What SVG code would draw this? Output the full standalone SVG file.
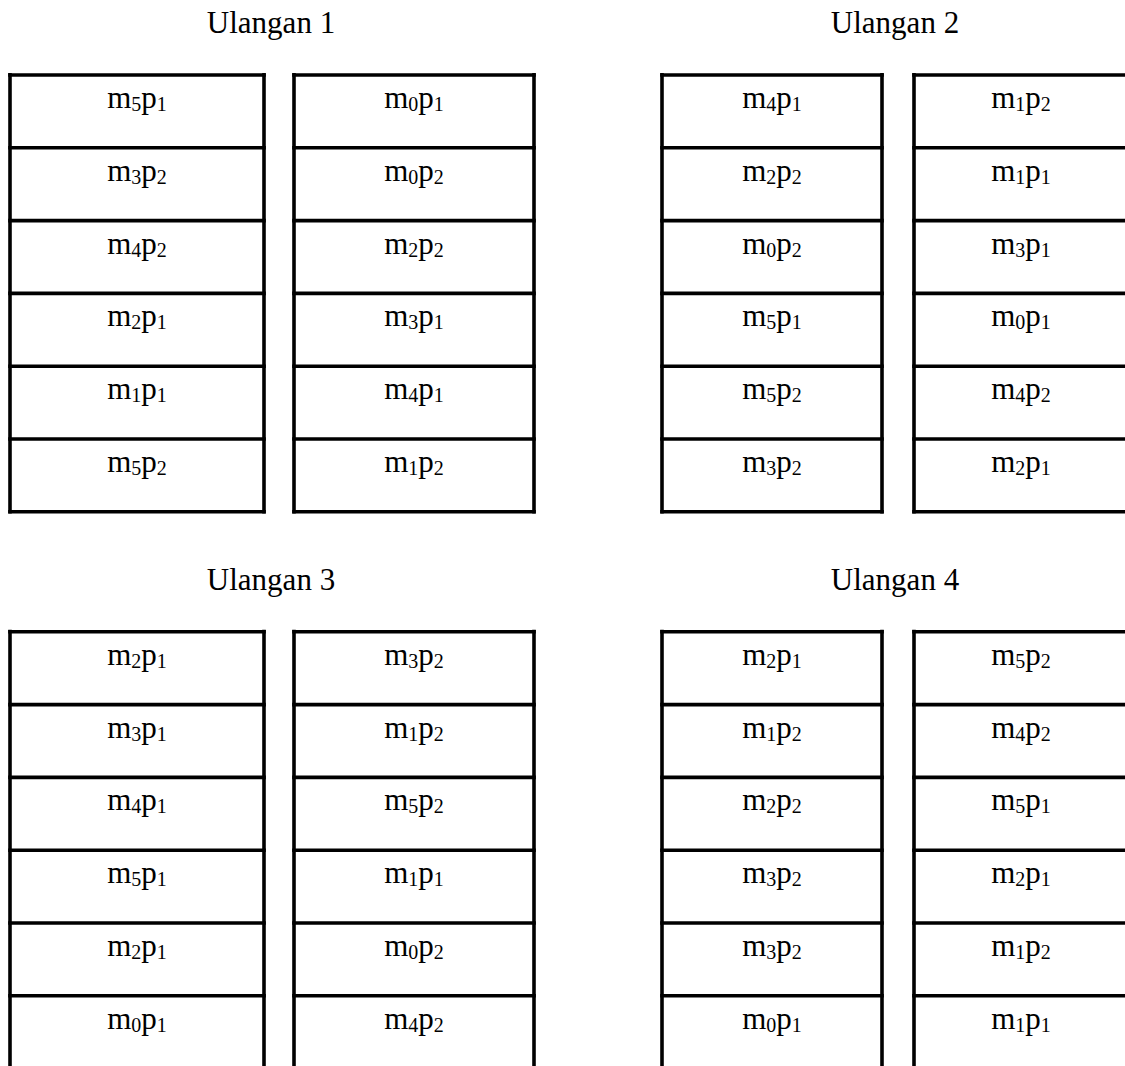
<svg xmlns="http://www.w3.org/2000/svg" width="1125" height="1066" viewBox="0 0 1125 1066">
<style>
.ln{stroke:#000;stroke-width:3.6;fill:none}
.t{font-family:"Liberation Serif","Times New Roman",serif;font-size:31px;fill:#000;text-anchor:middle}
.s{font-size:20px}
</style>
<rect width="1125" height="1066" fill="#fff"/>
<g id="titles">
<text class="t" x="271" y="33">Ulangan 1</text>
<text class="t" x="895" y="33">Ulangan 2</text>
<text class="t" x="271" y="590">Ulangan 3</text>
<text class="t" x="895" y="590">Ulangan 4</text>
</g>
<g id="connectors">
<!-- Ulangan 1 frames -->
<line class="ln" x1="10" y1="73" x2="10" y2="513.6"/>
<line class="ln" x1="264" y1="73" x2="264" y2="513.6"/>
<line class="ln" x1="294" y1="73" x2="294" y2="513.6"/>
<line class="ln" x1="534" y1="73" x2="534" y2="513.6"/>
<line class="ln" x1="8.2" y1="511.8" x2="265.8" y2="511.8"/>
<line class="ln" x1="292.2" y1="511.8" x2="535.8" y2="511.8"/>
<!-- Ulangan 2 frames -->
<line class="ln" x1="662" y1="73" x2="662" y2="513.6"/>
<line class="ln" x1="882" y1="73" x2="882" y2="513.6"/>
<line class="ln" x1="914" y1="73" x2="914" y2="513.6"/>
<line class="ln" x1="660.2" y1="511.8" x2="883.8" y2="511.8"/>
<line class="ln" x1="912.2" y1="511.8" x2="1125" y2="511.8"/>
<!-- Ulangan 3 frames -->
<line class="ln" x1="10" y1="629.8" x2="10" y2="1066"/>
<line class="ln" x1="264" y1="629.8" x2="264" y2="1066"/>
<line class="ln" x1="294" y1="629.8" x2="294" y2="1066"/>
<line class="ln" x1="534" y1="629.8" x2="534" y2="1066"/>
<!-- Ulangan 4 frames -->
<line class="ln" x1="662" y1="629.8" x2="662" y2="1066"/>
<line class="ln" x1="882" y1="629.8" x2="882" y2="1066"/>
<line class="ln" x1="914" y1="629.8" x2="914" y2="1066"/>
</g>
<!-- Ulangan 1, column 1 -->
<g id="u1a1"><line class="ln" x1="8.2" y1="75" x2="265.8" y2="75"/><text class="t" x="137" y="108">m<tspan class="s" dy="3">5</tspan><tspan dy="-3">p</tspan><tspan class="s" dy="3">1</tspan></text></g>
<g id="u1a2"><line class="ln" x1="8.2" y1="147.8" x2="265.8" y2="147.8"/><text class="t" x="137" y="180.8">m<tspan class="s" dy="3">3</tspan><tspan dy="-3">p</tspan><tspan class="s" dy="3">2</tspan></text></g>
<g id="u1a3"><line class="ln" x1="8.2" y1="220.6" x2="265.8" y2="220.6"/><text class="t" x="137" y="253.6">m<tspan class="s" dy="3">4</tspan><tspan dy="-3">p</tspan><tspan class="s" dy="3">2</tspan></text></g>
<g id="u1a4"><line class="ln" x1="8.2" y1="293.4" x2="265.8" y2="293.4"/><text class="t" x="137" y="326.4">m<tspan class="s" dy="3">2</tspan><tspan dy="-3">p</tspan><tspan class="s" dy="3">1</tspan></text></g>
<g id="u1a5"><line class="ln" x1="8.2" y1="366.2" x2="265.8" y2="366.2"/><text class="t" x="137" y="399.2">m<tspan class="s" dy="3">1</tspan><tspan dy="-3">p</tspan><tspan class="s" dy="3">1</tspan></text></g>
<g id="u1a6"><line class="ln" x1="8.2" y1="439" x2="265.8" y2="439"/><text class="t" x="137" y="472">m<tspan class="s" dy="3">5</tspan><tspan dy="-3">p</tspan><tspan class="s" dy="3">2</tspan></text></g>
<!-- Ulangan 1, column 2 -->
<g id="u1b1"><line class="ln" x1="292.2" y1="75" x2="535.8" y2="75"/><text class="t" x="414" y="108">m<tspan class="s" dy="3">0</tspan><tspan dy="-3">p</tspan><tspan class="s" dy="3">1</tspan></text></g>
<g id="u1b2"><line class="ln" x1="292.2" y1="147.8" x2="535.8" y2="147.8"/><text class="t" x="414" y="180.8">m<tspan class="s" dy="3">0</tspan><tspan dy="-3">p</tspan><tspan class="s" dy="3">2</tspan></text></g>
<g id="u1b3"><line class="ln" x1="292.2" y1="220.6" x2="535.8" y2="220.6"/><text class="t" x="414" y="253.6">m<tspan class="s" dy="3">2</tspan><tspan dy="-3">p</tspan><tspan class="s" dy="3">2</tspan></text></g>
<g id="u1b4"><line class="ln" x1="292.2" y1="293.4" x2="535.8" y2="293.4"/><text class="t" x="414" y="326.4">m<tspan class="s" dy="3">3</tspan><tspan dy="-3">p</tspan><tspan class="s" dy="3">1</tspan></text></g>
<g id="u1b5"><line class="ln" x1="292.2" y1="366.2" x2="535.8" y2="366.2"/><text class="t" x="414" y="399.2">m<tspan class="s" dy="3">4</tspan><tspan dy="-3">p</tspan><tspan class="s" dy="3">1</tspan></text></g>
<g id="u1b6"><line class="ln" x1="292.2" y1="439" x2="535.8" y2="439"/><text class="t" x="414" y="472">m<tspan class="s" dy="3">1</tspan><tspan dy="-3">p</tspan><tspan class="s" dy="3">2</tspan></text></g>
<!-- Ulangan 2, column 1 -->
<g id="u2a1"><line class="ln" x1="660.2" y1="75" x2="883.8" y2="75"/><text class="t" x="772" y="108">m<tspan class="s" dy="3">4</tspan><tspan dy="-3">p</tspan><tspan class="s" dy="3">1</tspan></text></g>
<g id="u2a2"><line class="ln" x1="660.2" y1="147.8" x2="883.8" y2="147.8"/><text class="t" x="772" y="180.8">m<tspan class="s" dy="3">2</tspan><tspan dy="-3">p</tspan><tspan class="s" dy="3">2</tspan></text></g>
<g id="u2a3"><line class="ln" x1="660.2" y1="220.6" x2="883.8" y2="220.6"/><text class="t" x="772" y="253.6">m<tspan class="s" dy="3">0</tspan><tspan dy="-3">p</tspan><tspan class="s" dy="3">2</tspan></text></g>
<g id="u2a4"><line class="ln" x1="660.2" y1="293.4" x2="883.8" y2="293.4"/><text class="t" x="772" y="326.4">m<tspan class="s" dy="3">5</tspan><tspan dy="-3">p</tspan><tspan class="s" dy="3">1</tspan></text></g>
<g id="u2a5"><line class="ln" x1="660.2" y1="366.2" x2="883.8" y2="366.2"/><text class="t" x="772" y="399.2">m<tspan class="s" dy="3">5</tspan><tspan dy="-3">p</tspan><tspan class="s" dy="3">2</tspan></text></g>
<g id="u2a6"><line class="ln" x1="660.2" y1="439" x2="883.8" y2="439"/><text class="t" x="772" y="472">m<tspan class="s" dy="3">3</tspan><tspan dy="-3">p</tspan><tspan class="s" dy="3">2</tspan></text></g>
<!-- Ulangan 2, column 2 -->
<g id="u2b1"><line class="ln" x1="912.2" y1="75" x2="1125" y2="75"/><text class="t" x="1021" y="108">m<tspan class="s" dy="3">1</tspan><tspan dy="-3">p</tspan><tspan class="s" dy="3">2</tspan></text></g>
<g id="u2b2"><line class="ln" x1="912.2" y1="147.8" x2="1125" y2="147.8"/><text class="t" x="1021" y="180.8">m<tspan class="s" dy="3">1</tspan><tspan dy="-3">p</tspan><tspan class="s" dy="3">1</tspan></text></g>
<g id="u2b3"><line class="ln" x1="912.2" y1="220.6" x2="1125" y2="220.6"/><text class="t" x="1021" y="253.6">m<tspan class="s" dy="3">3</tspan><tspan dy="-3">p</tspan><tspan class="s" dy="3">1</tspan></text></g>
<g id="u2b4"><line class="ln" x1="912.2" y1="293.4" x2="1125" y2="293.4"/><text class="t" x="1021" y="326.4">m<tspan class="s" dy="3">0</tspan><tspan dy="-3">p</tspan><tspan class="s" dy="3">1</tspan></text></g>
<g id="u2b5"><line class="ln" x1="912.2" y1="366.2" x2="1125" y2="366.2"/><text class="t" x="1021" y="399.2">m<tspan class="s" dy="3">4</tspan><tspan dy="-3">p</tspan><tspan class="s" dy="3">2</tspan></text></g>
<g id="u2b6"><line class="ln" x1="912.2" y1="439" x2="1125" y2="439"/><text class="t" x="1021" y="472">m<tspan class="s" dy="3">2</tspan><tspan dy="-3">p</tspan><tspan class="s" dy="3">1</tspan></text></g>
<!-- Ulangan 3, column 1 -->
<g id="u3a1"><line class="ln" x1="8.2" y1="631.8" x2="265.8" y2="631.8"/><text class="t" x="137" y="664.8">m<tspan class="s" dy="3">2</tspan><tspan dy="-3">p</tspan><tspan class="s" dy="3">1</tspan></text></g>
<g id="u3a2"><line class="ln" x1="8.2" y1="704.6" x2="265.8" y2="704.6"/><text class="t" x="137" y="737.6">m<tspan class="s" dy="3">3</tspan><tspan dy="-3">p</tspan><tspan class="s" dy="3">1</tspan></text></g>
<g id="u3a3"><line class="ln" x1="8.2" y1="777.4" x2="265.8" y2="777.4"/><text class="t" x="137" y="810.4">m<tspan class="s" dy="3">4</tspan><tspan dy="-3">p</tspan><tspan class="s" dy="3">1</tspan></text></g>
<g id="u3a4"><line class="ln" x1="8.2" y1="850.2" x2="265.8" y2="850.2"/><text class="t" x="137" y="883.2">m<tspan class="s" dy="3">5</tspan><tspan dy="-3">p</tspan><tspan class="s" dy="3">1</tspan></text></g>
<g id="u3a5"><line class="ln" x1="8.2" y1="923" x2="265.8" y2="923"/><text class="t" x="137" y="956">m<tspan class="s" dy="3">2</tspan><tspan dy="-3">p</tspan><tspan class="s" dy="3">1</tspan></text></g>
<g id="u3a6"><line class="ln" x1="8.2" y1="995.8" x2="265.8" y2="995.8"/><text class="t" x="137" y="1028.8">m<tspan class="s" dy="3">0</tspan><tspan dy="-3">p</tspan><tspan class="s" dy="3">1</tspan></text></g>
<!-- Ulangan 3, column 2 -->
<g id="u3b1"><line class="ln" x1="292.2" y1="631.8" x2="535.8" y2="631.8"/><text class="t" x="414" y="664.8">m<tspan class="s" dy="3">3</tspan><tspan dy="-3">p</tspan><tspan class="s" dy="3">2</tspan></text></g>
<g id="u3b2"><line class="ln" x1="292.2" y1="704.6" x2="535.8" y2="704.6"/><text class="t" x="414" y="737.6">m<tspan class="s" dy="3">1</tspan><tspan dy="-3">p</tspan><tspan class="s" dy="3">2</tspan></text></g>
<g id="u3b3"><line class="ln" x1="292.2" y1="777.4" x2="535.8" y2="777.4"/><text class="t" x="414" y="810.4">m<tspan class="s" dy="3">5</tspan><tspan dy="-3">p</tspan><tspan class="s" dy="3">2</tspan></text></g>
<g id="u3b4"><line class="ln" x1="292.2" y1="850.2" x2="535.8" y2="850.2"/><text class="t" x="414" y="883.2">m<tspan class="s" dy="3">1</tspan><tspan dy="-3">p</tspan><tspan class="s" dy="3">1</tspan></text></g>
<g id="u3b5"><line class="ln" x1="292.2" y1="923" x2="535.8" y2="923"/><text class="t" x="414" y="956">m<tspan class="s" dy="3">0</tspan><tspan dy="-3">p</tspan><tspan class="s" dy="3">2</tspan></text></g>
<g id="u3b6"><line class="ln" x1="292.2" y1="995.8" x2="535.8" y2="995.8"/><text class="t" x="414" y="1028.8">m<tspan class="s" dy="3">4</tspan><tspan dy="-3">p</tspan><tspan class="s" dy="3">2</tspan></text></g>
<!-- Ulangan 4, column 1 -->
<g id="u4a1"><line class="ln" x1="660.2" y1="631.8" x2="883.8" y2="631.8"/><text class="t" x="772" y="664.8">m<tspan class="s" dy="3">2</tspan><tspan dy="-3">p</tspan><tspan class="s" dy="3">1</tspan></text></g>
<g id="u4a2"><line class="ln" x1="660.2" y1="704.6" x2="883.8" y2="704.6"/><text class="t" x="772" y="737.6">m<tspan class="s" dy="3">1</tspan><tspan dy="-3">p</tspan><tspan class="s" dy="3">2</tspan></text></g>
<g id="u4a3"><line class="ln" x1="660.2" y1="777.4" x2="883.8" y2="777.4"/><text class="t" x="772" y="810.4">m<tspan class="s" dy="3">2</tspan><tspan dy="-3">p</tspan><tspan class="s" dy="3">2</tspan></text></g>
<g id="u4a4"><line class="ln" x1="660.2" y1="850.2" x2="883.8" y2="850.2"/><text class="t" x="772" y="883.2">m<tspan class="s" dy="3">3</tspan><tspan dy="-3">p</tspan><tspan class="s" dy="3">2</tspan></text></g>
<g id="u4a5"><line class="ln" x1="660.2" y1="923" x2="883.8" y2="923"/><text class="t" x="772" y="956">m<tspan class="s" dy="3">3</tspan><tspan dy="-3">p</tspan><tspan class="s" dy="3">2</tspan></text></g>
<g id="u4a6"><line class="ln" x1="660.2" y1="995.8" x2="883.8" y2="995.8"/><text class="t" x="772" y="1028.8">m<tspan class="s" dy="3">0</tspan><tspan dy="-3">p</tspan><tspan class="s" dy="3">1</tspan></text></g>
<!-- Ulangan 4, column 2 -->
<g id="u4b1"><line class="ln" x1="912.2" y1="631.8" x2="1125" y2="631.8"/><text class="t" x="1021" y="664.8">m<tspan class="s" dy="3">5</tspan><tspan dy="-3">p</tspan><tspan class="s" dy="3">2</tspan></text></g>
<g id="u4b2"><line class="ln" x1="912.2" y1="704.6" x2="1125" y2="704.6"/><text class="t" x="1021" y="737.6">m<tspan class="s" dy="3">4</tspan><tspan dy="-3">p</tspan><tspan class="s" dy="3">2</tspan></text></g>
<g id="u4b3"><line class="ln" x1="912.2" y1="777.4" x2="1125" y2="777.4"/><text class="t" x="1021" y="810.4">m<tspan class="s" dy="3">5</tspan><tspan dy="-3">p</tspan><tspan class="s" dy="3">1</tspan></text></g>
<g id="u4b4"><line class="ln" x1="912.2" y1="850.2" x2="1125" y2="850.2"/><text class="t" x="1021" y="883.2">m<tspan class="s" dy="3">2</tspan><tspan dy="-3">p</tspan><tspan class="s" dy="3">1</tspan></text></g>
<g id="u4b5"><line class="ln" x1="912.2" y1="923" x2="1125" y2="923"/><text class="t" x="1021" y="956">m<tspan class="s" dy="3">1</tspan><tspan dy="-3">p</tspan><tspan class="s" dy="3">2</tspan></text></g>
<g id="u4b6"><line class="ln" x1="912.2" y1="995.8" x2="1125" y2="995.8"/><text class="t" x="1021" y="1028.8">m<tspan class="s" dy="3">1</tspan><tspan dy="-3">p</tspan><tspan class="s" dy="3">1</tspan></text></g>
</svg>
